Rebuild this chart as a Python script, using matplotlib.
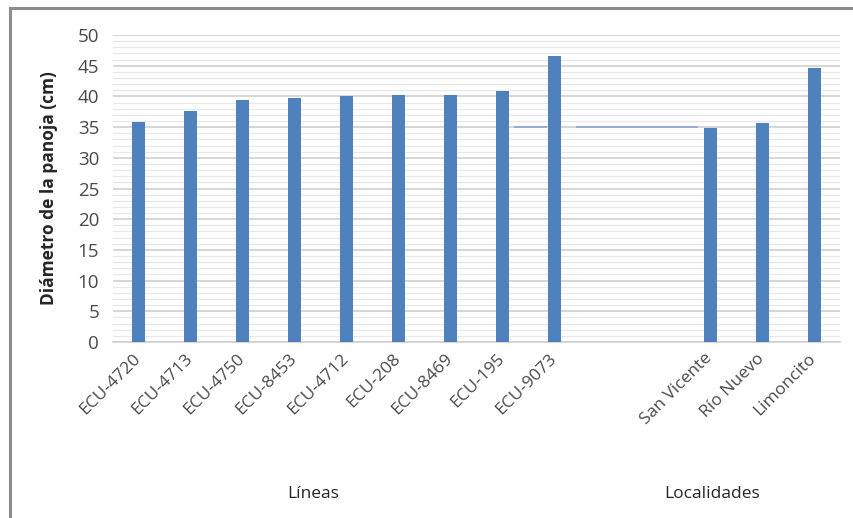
import matplotlib
matplotlib.use("Agg")
import matplotlib.pyplot as plt
from matplotlib.lines import Line2D
from matplotlib.ticker import MultipleLocator
from matplotlib.transforms import ScaledTranslation

plt.rcParams["font.family"] = ["Open Sans", "DejaVu Sans"]

# Panicle diameter by line and by locality
lineas = ["ECU-4720", "ECU-4713", "ECU-4750", "ECU-8453", "ECU-4712",
          "ECU-208", "ECU-8469", "ECU-195", "ECU-9073"]
lineas_vals = [35.9, 37.6, 39.4, 39.7, 40.0, 40.3, 40.3, 40.9, 46.6]

localidades = ["San Vicente", "Río Nuevo", "Limoncito"]
localidades_vals = [34.9, 35.7, 44.7]

# Reference level drawn as a thin line across the gap between groups
ref_value = 35.0
ref_segments = [(7.23, 7.85), (8.42, 10.77)]

n_gap = 2
labels = lineas + [""] * n_gap + localidades
values = lineas_vals + [None] * n_gap + localidades_vals
positions = list(range(len(labels)))

bar_color = "#4F81BD"
text_gray = "#4A4A4A"

fig = plt.figure(figsize=(8.54, 5.18), dpi=100)
ax = fig.add_axes([0.1323, 0.3398, 0.8513, 0.5926])

bx = [p for p, v in zip(positions, values) if v is not None]
bv = [v for v in values if v is not None]
ax.bar(bx, bv, width=0.25, color=bar_color, zorder=3)

for x0, x1 in ref_segments:
    ax.plot([x0, x1], [ref_value, ref_value], color="#8EA9D6", lw=1.3,
            zorder=2, solid_capstyle="butt")

ax.set_xlim(-0.5, len(labels) - 0.5)
ax.set_ylim(0, 50)
ax.yaxis.set_major_locator(MultipleLocator(5))
ax.yaxis.set_minor_locator(MultipleLocator(1))
ax.grid(axis="y", which="major", color="#D0D0D0", lw=1.2, zorder=0)
ax.grid(axis="y", which="minor", color="#E8E8E8", lw=0.9, zorder=0)
ax.set_axisbelow(True)

for s in ["top", "right", "left"]:
    ax.spines[s].set_visible(False)
ax.spines["bottom"].set_color("#D0D0D0")
ax.spines["bottom"].set_linewidth(1.2)

ax.tick_params(axis="both", which="both", length=0)
ax.tick_params(axis="y", labelsize=13.5, labelcolor=text_gray, pad=10)
ax.set_xticks(positions)
ax.set_xticklabels(labels, rotation=45, ha="right", rotation_mode="anchor",
                   fontsize=12.5, color=text_gray)
ax.tick_params(axis="x", pad=6)
shift = ScaledTranslation(-0.06, 0.0, fig.dpi_scale_trans)
for lbl in ax.get_xticklabels():
    lbl.set_transform(lbl.get_transform() + shift)

ax.set_ylabel("Diámetro de la panoja (cm)", fontsize=12.5, fontweight="bold",
              color="#262626", labelpad=14)

# Group captions under the category labels
fig.text(313 / 854, 1 - 494 / 518, "Líneas", ha="center", va="center",
         fontsize=12.5, color="#262626")
fig.text(712 / 854, 1 - 494 / 518, "Localidades", ha="center", va="center",
         fontsize=12.5, color="#262626")

# Chart frame (top and left edges)
frame_color = "#8C8C8C"
fig.add_artist(Line2D([10 / 854, 1.0], [1 - 8 / 518, 1 - 8 / 518],
                      transform=fig.transFigure, color=frame_color, lw=2.2))
fig.add_artist(Line2D([10 / 854, 10 / 854], [0.0, 1 - 8 / 518],
                      transform=fig.transFigure, color=frame_color, lw=2.2))

fig.savefig("out.png", dpi=100, facecolor="white")
